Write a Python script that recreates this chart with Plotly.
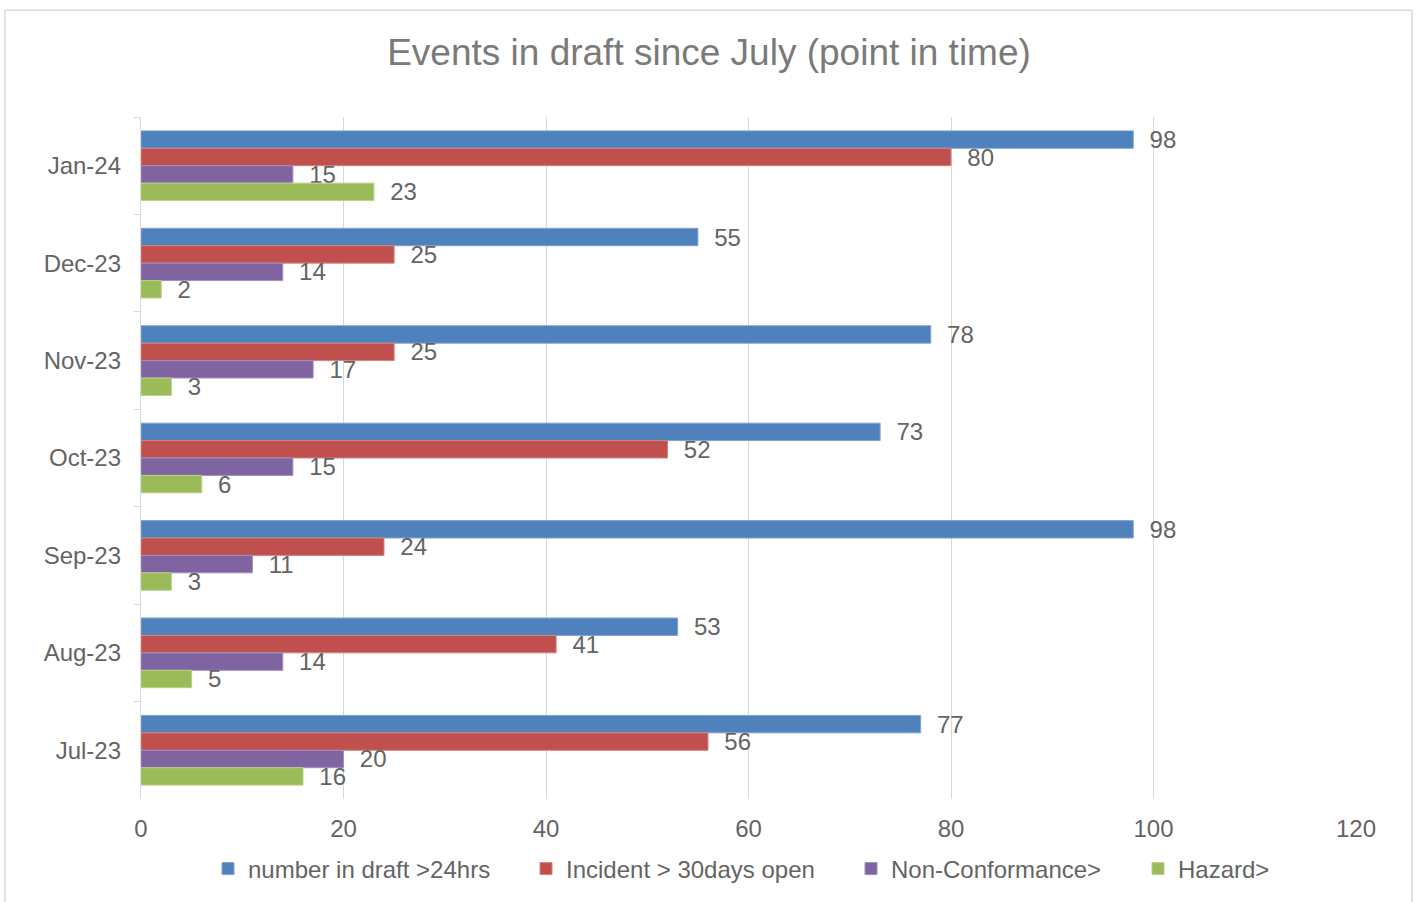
import plotly.graph_objects as go

# Monthly snapshot of events still sitting in draft
months = ["Jul-23", "Aug-23", "Sep-23", "Oct-23", "Nov-23", "Dec-23", "Jan-24"]

draft_over_24hrs = [77, 53, 98, 73, 78, 55, 98]
incident_over_30days = [56, 41, 24, 52, 25, 25, 80]
non_conformance = [20, 14, 11, 15, 17, 14, 15]
hazard = [16, 5, 3, 6, 3, 2, 23]

series_names = [
    "number in draft >24hrs",
    "Incident > 30days open",
    "Non-Conformance>",
    "Hazard>",
]
series_values = [draft_over_24hrs, incident_over_30days, non_conformance, hazard]
series_colors = ["#4F81BD", "#C0504D", "#8064A2", "#9BBB59"]
edge_colors = ["#7FA3D1", "#D48481", "#A28DBD", "#B8D08A"]

x_ticks = [0, 20, 40, 60, 80, 100, 120]

GREY = "#646464"
TITLE_GREY = "#7A7A7A"
FONT = "Liberation Sans, Arial, sans-serif"

W, H = 1416, 902
L, R, T, B = 141, 60, 117, 102
plot_w = W - L - R
plot_h = H - T - B

# each legend entry gets its own legend box so the spacing can be set per item
legend_ids = ["legend", "legend2", "legend3", "legend4"]
legend_left_px = [208, 526, 851, 1138]

fig = go.Figure()
for name, vals, col, edge, lg in zip(series_names, series_values, series_colors, edge_colors, legend_ids):
    fig.add_trace(
        go.Bar(
            y=months,
            x=vals,
            name=name,
            orientation="h",
            legend=lg,
            showlegend=True,
            marker=dict(color=col, line=dict(color=edge, width=1)),
            text=vals,
            texttemplate="  %{x}",
            textposition="outside",
            textfont=dict(family=FONT, size=24, color=GREY),
            constraintext="none",
            cliponaxis=False,
        )
    )

legend_y = (H - B - 869) / plot_h
legend_layout = {}
for lg, left in zip(legend_ids, legend_left_px):
    legend_layout[lg] = dict(
        orientation="h",
        x=(left - L) / plot_w,
        xanchor="left",
        y=legend_y,
        yanchor="middle",
        font=dict(family=FONT, size=24, color=GREY),
        itemwidth=30,
        bgcolor="rgba(0,0,0,0)",
    )

fig.update_layout(
    width=W,
    height=H,
    margin=dict(l=L, r=R, t=T, b=B),
    paper_bgcolor="white",
    plot_bgcolor="white",
    showlegend=True,
    barmode="group",
    bargap=0.285,
    bargroupgap=0,
    font=dict(family=FONT, size=24, color=GREY),
    title=dict(
        text="Events in draft since July (point in time)",
        font=dict(family=FONT, size=37, color=TITLE_GREY),
        x=709 / W,
        xanchor="center",
        xref="container",
        y=1 - 52 / H,
        yanchor="middle",
        yref="container",
    ),
    xaxis=dict(
        range=[0, 120],
        tickvals=x_ticks,
        ticktext=[str(v) for v in x_ticks],
        showgrid=True,
        gridcolor="#D9D9D9",
        gridwidth=1.3,
        zeroline=False,
        showline=False,
        ticks="",
        ticklabelstandoff=13,
        tickfont=dict(family=FONT, size=24, color=GREY),
    ),
    # latest month at the top, first series on top within each group
    yaxis=dict(
        type="category",
        categoryorder="array",
        categoryarray=months[::-1],
        range=[len(months) - 0.5, -0.5],
        showgrid=False,
        showline=True,
        linecolor="#D9D9D9",
        linewidth=1.3,
        ticks="outside",
        tickson="boundaries",
        ticklen=6,
        tickcolor="#D9D9D9",
        tickwidth=1.3,
        ticklabelstandoff=14,
        tickfont=dict(family=FONT, size=24, color=GREY),
    ),
    shapes=[
        dict(
            type="rect",
            xref="paper",
            yref="paper",
            x0=(5 - L) / plot_w,
            x1=(1412 - L) / plot_w,
            y0=(H - B - 910) / plot_h,
            y1=(H - B - 10) / plot_h,
            line=dict(color="#D9D9D9", width=1.5),
            fillcolor="rgba(0,0,0,0)",
            layer="below",
        )
    ],
    **legend_layout,
)

fig.write_html("out.html")
